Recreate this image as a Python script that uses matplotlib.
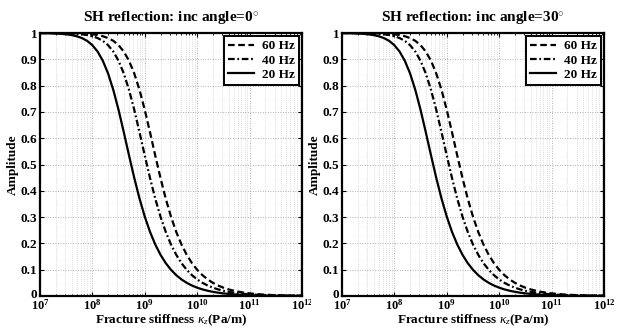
import matplotlib
matplotlib.use("Agg")
import matplotlib.pyplot as plt
from matplotlib.transforms import Bbox, TransformedBbox, ScaledTranslation
import numpy as np

plt.rcParams['font.family'] = ['Liberation Serif', 'DejaVu Serif']
plt.rcParams['mathtext.fontset'] = 'custom'
plt.rcParams['mathtext.rm'] = 'Liberation Serif:bold'
plt.rcParams['mathtext.it'] = 'Liberation Serif:italic'
plt.rcParams['mathtext.bf'] = 'Liberation Serif:bold'

# log10 of fracture stiffness (Pa/m) sample points
log_kappa = [7.0, 7.1, 7.2, 7.3, 7.4, 7.5, 7.6, 7.7, 7.8, 7.9,
             8.0, 8.1, 8.2, 8.3, 8.4, 8.5, 8.6, 8.7, 8.8, 8.9,
             9.0, 9.1, 9.2, 9.3, 9.4, 9.5, 9.6, 9.7, 9.8, 9.9,
             10.0, 10.1, 10.2, 10.3, 10.4, 10.5, 10.6, 10.7, 10.8, 10.9,
             11.0, 11.1, 11.2, 11.3, 11.4, 11.5, 11.6, 11.7, 11.8, 11.9, 12.0]

# incidence angle 0 deg
amp0_20 = [0.9995, 0.9992, 0.9987, 0.9980, 0.9969, 0.9950, 0.9922, 0.9877, 0.9807, 0.9701,
           0.9535, 0.9292, 0.8939, 0.8457, 0.7829, 0.7071, 0.6219, 0.5336, 0.4481, 0.3698,
           0.3015, 0.2436, 0.1957, 0.1566, 0.1249, 0.0995, 0.0792, 0.0630, 0.0501, 0.0398,
           0.0316, 0.0251, 0.0200, 0.0158, 0.0126, 0.0100, 0.0079, 0.0063, 0.0050, 0.0040,
           0.0032, 0.0025, 0.0020, 0.0016, 0.0013, 0.0010, 0.0008, 0.0006, 0.0005, 0.0004, 0.0003]
amp0_40 = [0.9999, 0.9998, 0.9997, 0.9995, 0.9992, 0.9987, 0.9980, 0.9969, 0.9950, 0.9922,
           0.9877, 0.9807, 0.9701, 0.9535, 0.9292, 0.8939, 0.8457, 0.7829, 0.7071, 0.6219,
           0.5336, 0.4481, 0.3698, 0.3015, 0.2436, 0.1957, 0.1566, 0.1249, 0.0995, 0.0792,
           0.0630, 0.0501, 0.0398, 0.0316, 0.0251, 0.0200, 0.0158, 0.0126, 0.0100, 0.0079,
           0.0063, 0.0050, 0.0040, 0.0032, 0.0025, 0.0020, 0.0016, 0.0013, 0.0010, 0.0008, 0.0006]
amp0_60 = [1.0000, 0.9999, 0.9999, 0.9998, 0.9997, 0.9995, 0.9992, 0.9987, 0.9980, 0.9969,
           0.9950, 0.9922, 0.9877, 0.9807, 0.9701, 0.9535, 0.9292, 0.8939, 0.8457, 0.7829,
           0.7071, 0.6219, 0.5336, 0.4481, 0.3698, 0.3015, 0.2436, 0.1957, 0.1566, 0.1249,
           0.0995, 0.0792, 0.0630, 0.0501, 0.0398, 0.0316, 0.0251, 0.0200, 0.0158, 0.0126,
           0.0100, 0.0079, 0.0063, 0.0050, 0.0040, 0.0032, 0.0025, 0.0020, 0.0016, 0.0013, 0.0010]

# incidence angle 30 deg (visually indistinguishable from 0 deg in the picture)
amp30_20 = list(amp0_20)
amp30_40 = list(amp0_40)
amp30_60 = list(amp0_60)

titles = ['SH reflection: inc angle=0$^{\\circ}$', 'SH reflection: inc angle=30$^{\\circ}$']
legend_labels = ['60 Hz', '40 Hz', '20 Hz']
xtick_exps = [7, 8, 9, 10, 11, 12]
ytick_vals = [0, 0.1, 0.2, 0.3, 0.4, 0.5, 0.6, 0.7, 0.8, 0.9, 1]

kappa = [10.0 ** e for e in log_kappa]

fig = plt.figure(figsize=(6.18, 3.30), dpi=100)
W, H = 618, 330
ax_boxes = [(40, 33, 302, 296), (342, 33, 604, 296)]
series_sets = [(amp0_60, amp0_40, amp0_20), (amp30_60, amp30_40, amp30_20)]
styles = [dict(ls=(0, (3.0, 1.6))), dict(ls=(0, (3.0, 1.2, 0.8, 1.2))), dict(ls='-')]

for i, (box, series) in enumerate(zip(ax_boxes, series_sets)):
    x0, y0, x1, y1 = box
    ax = fig.add_axes([x0 / W, 1 - y1 / H, (x1 - x0) / W, (y1 - y0) / H])
    for s, st, lab in zip(series, styles, legend_labels):
        ax.plot(kappa, s, color='black', lw=1.6, label=lab, **st)
    ax.set_xscale('log')
    ax.set_xlim(1e7, 1e12)
    ax.set_ylim(0, 1)
    ax.set_xticks([10.0 ** e for e in xtick_exps])
    ax.set_xticklabels(['$\\mathbf{10^{%d}}$' % e for e in xtick_exps])
    ax.set_yticks(ytick_vals)
    ax.set_yticklabels(['%g' % v for v in ytick_vals])
    ax.grid(True, which='major', ls=(0, (1, 2)), color='#999999', lw=0.6)
    ax.grid(True, which='minor', ls=(0, (1, 2)), color='#bbbbbb', lw=0.5)
    ax.tick_params(which='both', direction='in', top=True, right=True)
    ax.tick_params(which='major', length=3, width=0.8, labelsize=9.5)
    ax.tick_params(axis='x', which='major', pad=1.5, labelsize=9)
    ax.tick_params(axis='y', which='major', pad=2)
    ax.tick_params(which='minor', length=1.5, width=0.6)
    ylbls = ax.get_yticklabels()
    for lbl in ylbls:
        lbl.set_fontweight('bold')
    # nudge the "0" label up a little, as in the reference
    ylbls[0].set_transform(ylbls[0].get_transform() + ScaledTranslation(0, 3 / 100, fig.dpi_scale_trans))
    for sp in ax.spines.values():
        sp.set_linewidth(1.6)
    ax.set_title(titles[i], fontsize=11, fontweight='bold', pad=9)
    ax.set_ylabel('Amplitude', fontsize=9.5, fontweight='bold', labelpad=1)
    ax.set_xlabel('Fracture stiffness $\\kappa_z$(Pa/m)', fontsize=9.5, fontweight='bold', labelpad=0)
    leg = ax.legend(loc='upper right', prop={'weight': 'bold', 'size': 9.5},
                    fancybox=False, edgecolor='black', framealpha=1,
                    borderaxespad=0.25, handlelength=2.0, labelspacing=0.15, borderpad=0.3,
                    handletextpad=0.6)
    leg.get_frame().set_linewidth(1.4)
    if i == 0:
        clip = TransformedBbox(Bbox([[0, 0], [311 / W, 1]]), fig.transFigure)
        for lbl in ax.get_xticklabels():
            lbl.set_clip_box(clip)
            lbl.set_clip_on(True)

fig.savefig('out.png', dpi=100)
